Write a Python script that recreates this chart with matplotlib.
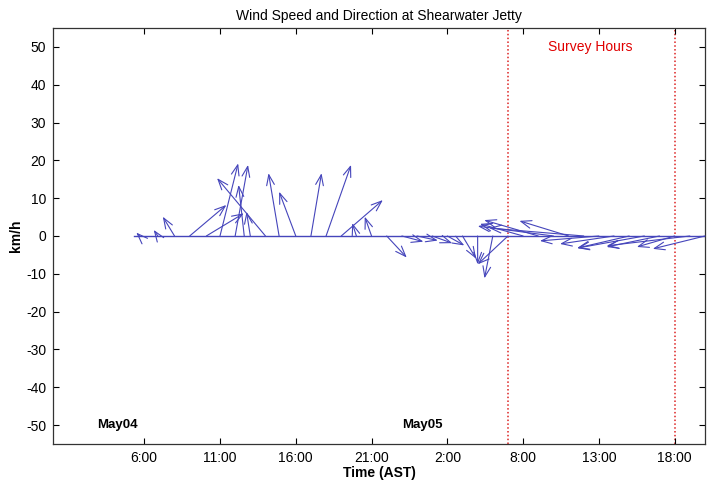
import matplotlib
matplotlib.use("Agg")
import matplotlib.pyplot as plt
import numpy as np

plt.rcParams['font.family'] = ['Liberation Sans', 'DejaVu Sans']

# Hours since May04 00:00 (AST)
times = [5.3, 5.7, 6.9, 8.0, 9.0, 10.1, 11.0, 12.0, 12.6, 13.0, 14.0, 14.9, 16.0, 17.0,
         18.0, 19.0, 20.0, 21.0, 22.0, 23.0, 24.0, 25.0, 26.0, 27.0, 28.0, 29.0,
         30.0, 31.0, 32.0, 33.0, 34.0, 35.0, 36.0, 37.0, 38.0, 39.0, 40.0, 41.0, 42.0, 43.0]
# eastward / northward wind components (km/h)
u_east = [0.0, -0.9, -1.1, -3.1, 9.7, 9.9, 4.8, 3.4, -1.5, -1.0, -12.8, -2.8, -4.4, 2.8,
          6.6, 11.0, -1.1, -1.8, 5.3, 5.7, 5.5, 5.3, 4.5, 3.6, 0.0, -2.2,
          -8.0, -11.4, -14.3, -20.0, -13.0, -25.0, -15.6, -14.3, -13.8, -17.7, -14.0, -10.0, -22.0, -13.8]
v_north = [0.0, 0.9, 1.6, 5.1, 8.2, 6.0, 19.2, 18.8, 13.5, 6.4, 15.3, 16.6, 11.7, 16.6,
           18.8, 9.5, 3.4, 5.1, -5.7, -1.5, -1.2, -1.9, -2.5, -6.0, -7.5, -11.2,
           -7.5, 3.2, 4.2, 2.6, 4.0, 2.1, -1.3, -2.1, -3.2, -3.2, -2.9, -2.9, -2.6, -3.4]

xtick_pos = [6, 11, 16, 21, 26, 31, 36, 41]
xtick_labels = ['6:00', '11:00', '16:00', '21:00', '2:00', '8:00', '13:00', '18:00']
yticks = list(range(-50, 51, 10))
survey_start, survey_end = 30.0, 41.0
day_labels = ['May04', 'May05']
day_label_pos = [2.9, 23.0]

fig = plt.figure(figsize=(7.19, 4.9), dpi=100)
ax = fig.add_axes([0.0741, 0.0939, 0.9064, 0.849])
ax.set_xlim(0, 43)
ax.set_ylim(-55, 55)

col = '#4545bb'
ax.plot([times[0], times[-1]], [0, 0], color=col, lw=1.0, zorder=2)

# aspect factor so that vectors are drawn isotropically on screen
fig.canvas.draw()
bbox = ax.get_window_extent()
px_per_x = bbox.width / (43 - 0)
px_per_y = bbox.height / (55 - (-55))
k = px_per_y / px_per_x

for t, u, v in zip(times, u_east, v_north):
    if u == 0 and v == 0:
        continue
    ax.annotate('', xy=(t + u * k, v), xytext=(t, 0), xycoords='data', textcoords='data',
                arrowprops=dict(arrowstyle='->,head_length=0.75,head_width=0.28',
                                color=col, lw=0.8, shrinkA=0, shrinkB=0), zorder=3)

for xv in (survey_start, survey_end):
    ax.axvline(xv, color='#dd2222', ls=(0, (1, 1.5)), lw=1.1, zorder=1)

ax.text(35.4, 50, 'Survey Hours', color='#e00000', fontsize=10, ha='center', va='center')
for lab, xp in zip(day_labels, day_label_pos):
    ax.text(xp, -50, lab, fontsize=9.5, fontweight='bold', ha='left', va='center')

ax.set_xticks(xtick_pos)
ax.set_xticklabels(xtick_labels, fontsize=10)
ax.set_yticks(yticks)
ax.set_yticklabels([str(y) for y in yticks], fontsize=10)
ax.tick_params(direction='in', top=True, right=True, length=4, pad=5)
ax.set_xlabel('Time (AST)', fontsize=10, fontweight='bold', labelpad=1)
ax.set_ylabel('km/h', fontsize=10, fontweight='bold', labelpad=2)
ax.set_title('Wind Speed and Direction at Shearwater Jetty', fontsize=10, pad=6)
for s in ax.spines.values():
    s.set_linewidth(0.9)
    s.set_color('#333333')

fig.savefig('out.png', dpi=100)
